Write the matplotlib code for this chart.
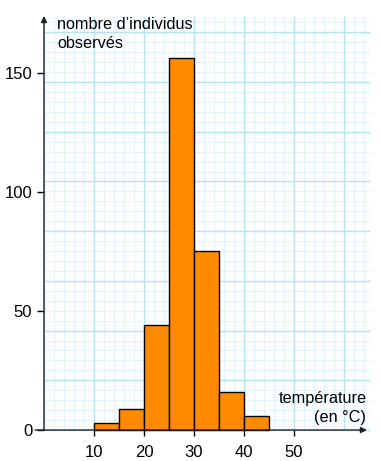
import numpy as np
import matplotlib.pyplot as plt

plt.rcParams['font.family'] = ['Liberation Sans', 'DejaVu Sans']

# Data: temperature classes (left edges, width 5 °C) and observed counts
bin_edges = [10, 15, 20, 25, 30, 35, 40]
counts = [3, 9, 44, 156, 75, 16, 6]
x_ticks = [10, 20, 30, 40, 50]
y_ticks = [0, 50, 100, 150]

fig = plt.figure(figsize=(3.8, 4.61), dpi=100)
ax = fig.add_axes([0, 0, 1, 1])
ax.set_xlim(-8.8, 67.2)
ax.set_ylim(-13.0, 180.5)

# graph paper background
x_top = 65.2
y_top = 173.8
minor_x = np.arange(0, x_top, 2)
minor_y = np.arange(0, y_top, 49.7 / 5 / 2.382)
major_x = np.arange(0, x_top, 10)
major_y = np.arange(0, y_top, 49.7 / 2.382)
ax.vlines(minor_x, 0, y_top, color='#e2f3fc', lw=0.8, zorder=0)
ax.hlines(minor_y, 0, x_top, color='#e2f3fc', lw=0.8, zorder=0)
ax.vlines(major_x, 0, y_top, color='#b8e3f7', lw=1.0, zorder=0)
ax.hlines(major_y, 0, x_top, color='#b8e3f7', lw=1.0, zorder=0)

# histogram bars
ax.bar(bin_edges, counts, width=5, align='edge', color='#ff8a00',
       edgecolor='black', linewidth=1.0, zorder=2)

# axes with arrows
for s in ax.spines.values():
    s.set_visible(False)
ax.spines['left'].set_position(('data', 0))
ax.spines['bottom'].set_position(('data', 0))
ax.annotate('', xy=(64.6, 0), xytext=(-1.8, 0),
            arrowprops=dict(arrowstyle='-|>', color='#222222', lw=1.0,
                            mutation_scale=9, shrinkA=0, shrinkB=0), zorder=3)
ax.annotate('', xy=(0, 173.8), xytext=(0, 0),
            arrowprops=dict(arrowstyle='-|>', color='#222222', lw=1.0,
                            mutation_scale=9, shrinkA=0, shrinkB=0), zorder=3)

ax.set_xticks(x_ticks)
ax.set_yticks(y_ticks)
ax.tick_params(axis='x', direction='out', length=4, width=1, pad=7, labelsize=12)
ax.tick_params(axis='y', direction='out', length=5, width=1, pad=3.5, labelsize=12)

ax.text(2.6, 168.3, "nombre d\u2019individus", ha='left', va='baseline', fontsize=11.7)
ax.text(2.6, 160.4, "observés", ha='left', va='baseline', fontsize=11.7)
ax.text(64.6, 11.3, "température", ha='right', va='baseline', fontsize=11.7)
ax.text(64.4, 3.4, "(en °C)", ha='right', va='baseline', fontsize=11.7)

fig.savefig('out.png', dpi=100)
